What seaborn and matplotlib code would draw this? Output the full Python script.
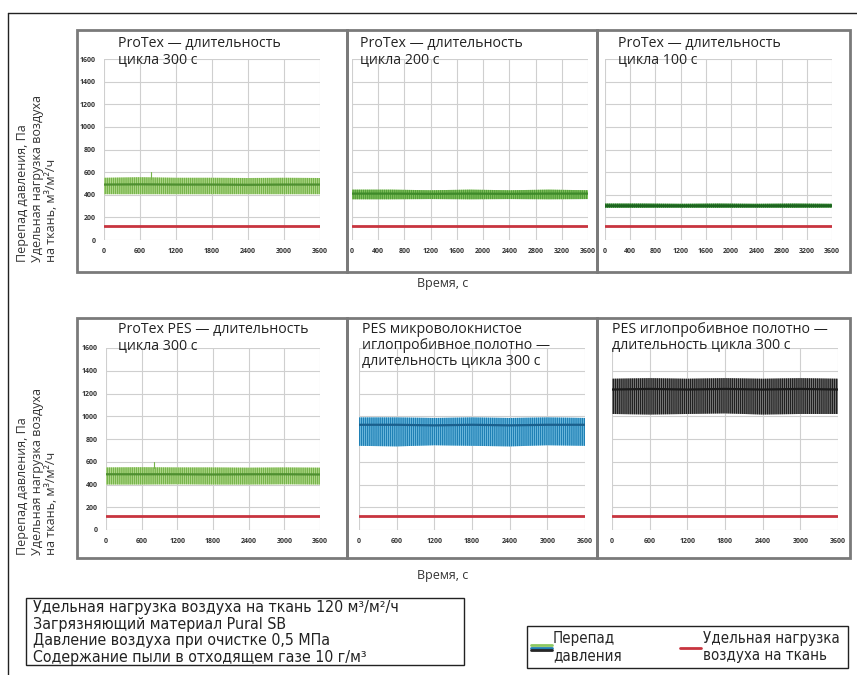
import matplotlib
matplotlib.use("Agg")
import matplotlib.pyplot as plt
import seaborn as sns
import pandas as pd
from matplotlib import font_manager
from matplotlib.patches import Rectangle
from matplotlib.lines import Line2D
from matplotlib.legend_handler import HandlerBase

# --- data ---
t_env = [0, 600, 1200, 1800, 2400, 3000, 3600]

titles = ["ProTex \u2014 длительность\nцикла 300 с",
          "ProTex \u2014 длительность\nцикла 200 с",
          "ProTex \u2014 длительность\nцикла 100 с",
          "ProTex PES \u2014 длительность\nцикла 300 с",
          "PES микроволокнистое\nиглопробивное полотно \u2014\nдлительность цикла 300 с",
          "PES иглопробивное полотно \u2014\nдлительность цикла 300 с"]

dp_upper = [[550, 555, 550, 550, 548, 550, 548],
            [445, 445, 440, 445, 440, 445, 440],
            [322, 322, 320, 322, 320, 322, 320],
            [550, 552, 550, 550, 548, 550, 548],
            [990, 990, 985, 990, 985, 990, 985],
            [1330, 1335, 1330, 1335, 1330, 1335, 1330]]
dp_lower = [[405, 405, 405, 405, 405, 405, 405],
            [360, 360, 362, 360, 362, 360, 362],
            [285, 285, 286, 285, 286, 285, 286],
            [400, 400, 402, 400, 400, 402, 400],
            [740, 735, 745, 740, 735, 745, 740],
            [1020, 1015, 1020, 1025, 1015, 1020, 1020]]
dp_mean = [[490, 492, 490, 490, 488, 490, 490],
           [410, 410, 408, 410, 408, 410, 410],
           [302, 302, 300, 302, 300, 302, 302],
           [490, 490, 490, 488, 490, 490, 488],
           [925, 925, 920, 925, 920, 925, 925],
           [1235, 1240, 1235, 1240, 1235, 1240, 1235]]
air_load = [120, 120, 120, 120, 120, 120, 120]

# single spikes visible in two panels
spike_t = {0: [780, 780], 3: [800, 800]}
spike_v = {0: [540, 605], 3: [545, 602]}

xticks = [[0, 600, 1200, 1800, 2400, 3000, 3600],
          [0, 400, 800, 1200, 1600, 2000, 2400, 2800, 3200, 3600],
          [0, 400, 800, 1200, 1600, 2000, 2400, 2800, 3200, 3600],
          [0, 600, 1200, 1800, 2400, 3000, 3600],
          [0, 600, 1200, 1800, 2400, 3000, 3600],
          [0, 600, 1200, 1800, 2400, 3000, 3600]]
yticks = [0, 200, 400, 600, 800, 1000, 1200, 1400, 1600]

band_light = ["#c6e4a4", "#98cd70", "#4f9f42", "#c6e4a4", "#8ccfec", "#9a9a9a"]
band_dark = ["#76b44a", "#52a038", "#1f6e24", "#76b44a", "#1f80b5", "#202020"]
mean_col = ["#4e8f30", "#3f8a2a", "#1d6420", "#4e8f30", "#1a5f8c", "#1a1a1a"]
red = "#c8343f"

info = ("Удельная нагрузка воздуха на ткань 120 м³/м²/ч\n"
        "Загрязняющий материал Pural SB\n"
        "Давление воздуха при очистке 0,5 МПа\n"
        "Содержание пыли в отходящем газе 10 г/м³")
ylab = "Перепад давления, Па\nУдельная нагрузка воздуха\nна ткань, м³/м²/ч"

# condensed face for the note box and legend
names = {f.name for f in font_manager.fontManager.ttflist}
if "Liberation Sans Narrow" in names:
    narrow = dict(family=["Liberation Sans Narrow", "DejaVu Sans"])
else:
    narrow = dict(family=["DejaVu Sans"], stretch="condensed")

# --- layout (pixels of the 857x675 picture) ---
W, H = 857, 675
sns.set_style("white")
plt.rcParams["font.family"] = ["Open Sans", "DejaVu Sans"]
plt.rcParams["hatch.linewidth"] = 1.0

fig = plt.figure(figsize=(W / 100, H / 100), dpi=100)


def fx(x):
    return x / W


def fy(y):
    return 1 - y / H


def frame(x0, y0, x1, y1, **kw):
    fig.patches.append(Rectangle((fx(x0), fy(y1)), fx(x1) - fx(x0), fy(y0) - fy(y1),
                                 transform=fig.transFigure, fill=False, **kw))


# outer frame
fig.lines.append(Line2D([fx(8), fx(8)], [fy(13), fy(675)], transform=fig.transFigure,
                        color="#222", lw=1))
fig.lines.append(Line2D([fx(8), fx(857)], [fy(13), fy(13)], transform=fig.transFigure,
                        color="#222", lw=1))

boxes = [(77, 30, 347, 272), (347, 30, 597, 272), (597, 30, 850, 272),
         (77, 318, 347, 558), (347, 318, 597, 558), (597, 318, 850, 558)]
plot_area = [(104, 59, 320, 240), (352, 59, 588, 240), (605, 59, 832, 240),
             (106, 348, 320, 530), (359, 348, 585, 530), (612, 348, 838, 530)]
title_pos = [(118, 36), (360, 36), (618, 36), (118, 322), (362, 322), (612, 322)]

for i in range(6):
    bx0, by0, bx1, by1 = boxes[i]
    frame(bx0, by0, bx1, by1, edgecolor="#7a7a7a", lw=2)

    x0, y0, x1, y1 = plot_area[i]
    ax = fig.add_axes([fx(x0), fy(y1), fx(x1) - fx(x0), fy(y0) - fy(y1)])
    ax.set_facecolor("none")

    ax.fill_between(t_env, dp_lower[i], dp_upper[i], facecolor=band_light[i],
                    edgecolor=band_dark[i], hatch="|" * 8, linewidth=0, zorder=2)
    df = pd.DataFrame({"t": t_env, "dp": dp_mean[i], "q": air_load})
    sns.lineplot(data=df, x="t", y="dp", color=mean_col[i], lw=1.6, ax=ax, zorder=3)
    sns.lineplot(data=df, x="t", y="q", color=red, lw=2.0, ax=ax, zorder=3)
    if i in spike_t:
        ax.plot(spike_t[i], spike_v[i], color=band_dark[i], lw=0.8, zorder=3)

    ax.set_xlim(0, 3600)
    ax.set_ylim(0, 1600)
    ax.set_xticks(xticks[i])
    ax.set_yticks(yticks)
    ax.grid(True, color="#cfcfcf", lw=0.8)
    ax.set_axisbelow(True)
    for s in ax.spines.values():
        s.set_visible(False)
    ax.tick_params(length=0, labelsize=5, colors="#333", pad=6)
    for lab in ax.get_xticklabels() + ax.get_yticklabels():
        lab.set_fontweight("bold")
    if i not in (0, 3):
        ax.set_yticklabels([])
    ax.set_xlabel("")
    ax.set_ylabel("")

    tx, ty = title_pos[i]
    fig.text(fx(tx), fy(ty), titles[i], ha="left", va="top", fontsize=10.2,
             color="#222", linespacing=1.1)

# axis labels
for yb in (262, 555):
    fig.text(fx(37), fy(yb), ylab, rotation=90, ha="center", va="bottom",
             multialignment="left", fontsize=9, color="#333", linespacing=1.15)
for yc in (283, 576):
    fig.text(fx(443), fy(yc), "Время, с", ha="center", va="center", fontsize=9,
             color="#333")

# info box
frame(26, 598, 464, 665, edgecolor="#222", lw=1)
fig.text(fx(33), fy(600), info, ha="left", va="top", fontsize=11.4, color="#222",
         linespacing=1.13, **narrow)


# legend
class StackHandler(HandlerBase):
    def __init__(self, colors):
        super().__init__()
        self.colors = colors

    def create_artists(self, legend, orig_handle, xdescent, ydescent, width,
                       height, fontsize, trans):
        out = []
        n = len(self.colors)
        for k, c in enumerate(self.colors):
            yy = height * (n - k) / (n + 1) - ydescent
            out.append(Line2D([-xdescent, width - xdescent], [yy, yy], color=c,
                              lw=2, transform=trans))
        return out


frame(527, 626, 848, 668, edgecolor="#222", lw=1)
h_dp = Line2D([], [])
h_q = Line2D([], [])
fig.legend([h_dp, h_q], ["Перепад\nдавления", "Удельная нагрузка\nвоздуха на ткань"],
           handler_map={h_dp: StackHandler(["#8cc860", "#1f7fb3", "#262626"]),
                        h_q: StackHandler([red])},
           loc="center", bbox_to_anchor=(fx(685), fy(647)), ncol=2, frameon=False,
           handlelength=1.4, handletextpad=0.1, columnspacing=3.9,
           prop=dict(size=10.8, **narrow))

fig.savefig("out.png", dpi=100)
